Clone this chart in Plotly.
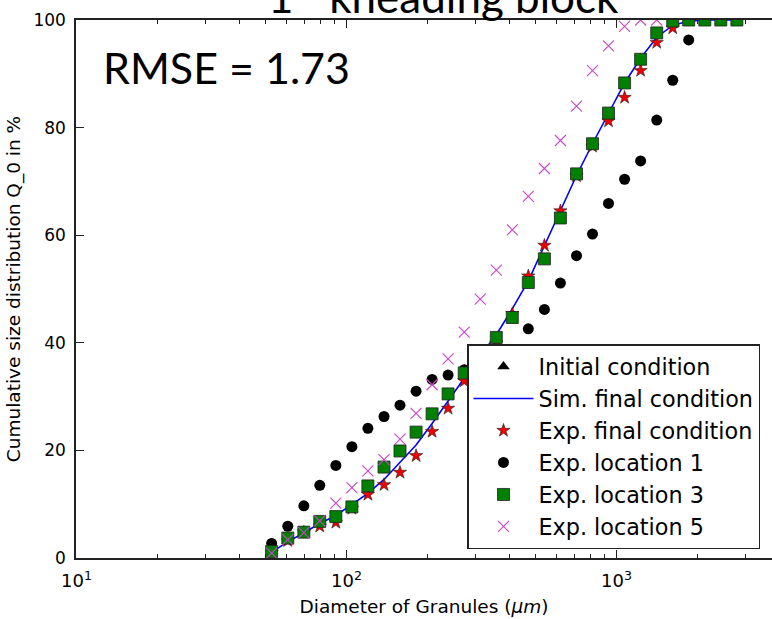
import plotly.graph_objects as go

# ---------------- data ----------------
diameter_um = [52.8, 60.6, 69.5, 79.6, 91.3, 104.7, 120.0, 137.7, 157.8, 181.0,
               207.5, 237.8, 272.9, 312.7, 358.8, 411.2, 471.4, 540.8, 619.8, 711.1,
               815.0, 934.1, 1071.6, 1228.5, 1409.4, 1615.3, 1851.2, 2123.6, 2434.4, 2792.3]

initial_condition = []  # no visible points in the reference

sim_final = [1.1, 3.0, 4.7, 6.4, 7.9, 9.9, 12.0, 14.6, 17.7, 21.0,
             25.0, 29.2, 33.6, 37.6, 41.5, 46.3, 51.5, 58.1, 64.6, 71.1,
             77.0, 82.5, 88.3, 92.9, 96.8, 99.0, 99.8, 100.0, 100.0, 100.0]

exp_final = [1.0, 3.2, 4.8, 5.9, 6.6, 9.2, 11.8, 13.6, 15.9, 19.0,
             23.5, 27.8, 32.9, 36.0, 39.9, 45.4, 52.4, 58.1, 64.5, 71.0,
             76.5, 81.2, 85.6, 90.6, 95.8, 98.5, 100.0, 100.0, 100.0, 100.0]

exp_loc1 = [2.7, 5.9, 9.7, 13.5, 17.2, 20.7, 24.1, 26.3, 28.4, 31.0,
            33.2, 34.0, 35.0, 36.0, 37.3, 38.5, 42.6, 46.2, 51.1, 56.2,
            60.2, 65.9, 70.4, 73.8, 81.4, 88.8, 96.3, 100.0, 100.0, 100.0]

exp_loc3 = [1.2, 3.7, 4.8, 6.8, 7.7, 9.5, 13.4, 16.9, 19.9, 23.4,
            26.8, 30.5, 34.4, 37.8, 41.0, 44.7, 51.2, 55.6, 63.2, 71.4,
            77.0, 82.7, 88.3, 92.7, 97.6, 99.8, 100.0, 100.0, 100.0, 100.0]

exp_loc5 = [0.9, 3.4, 4.7, 6.9, 10.2, 13.1, 16.2, 18.3, 22.1, 26.9,
            32.2, 37.0, 42.0, 48.1, 53.5, 61.0, 67.2, 72.4, 77.6, 84.0,
            90.6, 95.2, 98.8, 100.0, 100.0]

x_tick_vals = [10, 100, 1000]
x_tick_text = ["10<sup>1</sup>", "10<sup>2</sup>", "10<sup>3</sup>"]
y_tick_vals = [0, 20, 40, 60, 80, 100]

# ---------------- figure ----------------
fig = go.Figure()

fig.add_trace(go.Scatter(
    x=diameter_um[:len(initial_condition)] if initial_condition else [None],
    y=initial_condition if initial_condition else [None],
    mode="markers", name="Initial condition", legendgroup="a",
    marker=dict(symbol="triangle-up", size=11, color="black")))

fig.add_trace(go.Scatter(
    x=diameter_um, y=sim_final, mode="lines", name="Sim. final condition",
    legendgroup="b", line=dict(color="#0000ff", width=1.6)))

fig.add_trace(go.Scatter(
    x=diameter_um[:len(exp_final)], y=exp_final, mode="markers",
    name="Exp. final condition", legendgroup="c",
    marker=dict(symbol="star", size=10, color="#ee0000",
                line=dict(color="#222222", width=0.6))))

fig.add_trace(go.Scatter(
    x=diameter_um[:len(exp_loc1)], y=exp_loc1, mode="markers",
    name="Exp. location 1", legendgroup="d",
    marker=dict(symbol="circle", size=11, color="black")))

fig.add_trace(go.Scatter(
    x=diameter_um[:len(exp_loc3)], y=exp_loc3, mode="markers",
    name="Exp. location 3", legendgroup="e",
    marker=dict(symbol="square", size=12, color="#008000",
                line=dict(color="#222222", width=0.8))))

fig.add_trace(go.Scatter(
    x=diameter_um[:len(exp_loc5)], y=exp_loc5, mode="markers",
    name="Exp. location 5", legendgroup="f",
    marker=dict(symbol="x-thin", size=11, color="#cc44cc",
                line=dict(color="#cc44cc", width=1.1))))

minor_vals = []
for dec in (10, 100, 1000):
    for k in range(2, 10):
        minor_vals.append(dec * k)

axis_line = "#222222"

fig.update_layout(
    width=772, height=619,
    margin=dict(l=76, r=0, t=20, b=61),
    paper_bgcolor="white", plot_bgcolor="white",
    font=dict(family="DejaVu Sans", size=17, color="black"),
    showlegend=True,
    legend=dict(
        x=(467 - 76) / 696, xanchor="left",
        y=(558 - 344) / 538, yanchor="top",
        bgcolor="white", bordercolor="#222222", borderwidth=1.5,
        font=dict(family="DejaVu Sans", size=22.3, color="black"),
        traceorder="grouped", tracegroupgap=0, itemwidth=60,
    ),
    xaxis=dict(
        type="log", range=[0.998, 3.576],
        tickvals=x_tick_vals, ticktext=x_tick_text,
        ticks="inside", ticklen=8, tickwidth=1, tickcolor=axis_line,
        minor=dict(tickvals=minor_vals, ticks="inside", ticklen=4,
                   tickwidth=1, tickcolor=axis_line, showgrid=False),
        showline=True, linecolor=axis_line, linewidth=1.5, mirror="ticks",
        showgrid=False, zeroline=False,
        ticklabelstandoff=6,
        tickfont=dict(family="DejaVu Sans", size=18),
        title=dict(text="Diameter of Granules (<i>μm</i>)",
                   font=dict(family="DejaVu Sans", size=18.5), standoff=10),
    ),
    yaxis=dict(
        range=[0, 100], tickvals=y_tick_vals,
        ticks="inside", ticklen=8, tickwidth=1, tickcolor=axis_line,
        showline=True, linecolor=axis_line, linewidth=1.5,
        showgrid=False, zeroline=False,
        ticklabelstandoff=5,
        tickfont=dict(family="DejaVu Sans", size=17),
        title=dict(text="Cumulative size distribution Q_0 in %",
                   font=dict(family="DejaVu Sans", size=18.5), standoff=8),
    ),
    annotations=[
        dict(text="RMSE = 1.73", xref="paper", yref="paper",
             x=(101 - 76) / 696, xanchor="left",
             y=(558 - 67.6) / 538, yanchor="middle",
             showarrow=False, font=dict(family="Lato", size=43, color="black")),
        dict(text="1<sup>st</sup> kneading block", xref="paper", yref="paper",
             x=(266 - 76) / 696, xanchor="left",
             y=1.0, yanchor="bottom", yshift=-4,
             showarrow=False, font=dict(family="Lato", size=44, color="black")),
    ],
)

fig.write_html("out.html",
               config={"displayModeBar": False},
               post_script="document.body.style.margin='0px';")
